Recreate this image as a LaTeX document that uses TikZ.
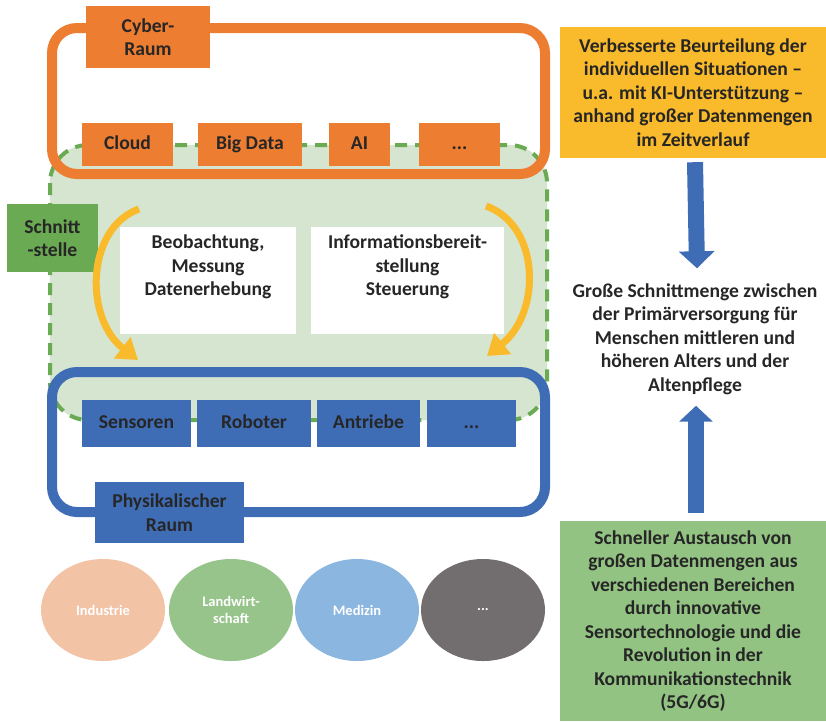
\documentclass[tikz,border=0pt]{standalone}
\usepackage{fontspec}
\setmainfont{Carlito}
\usetikzlibrary{shapes.geometric,positioning,fit,calc,arrows.meta}

\definecolor{orng}{HTML}{ED7D31}
\definecolor{blau}{HTML}{3F6DB5}
\definecolor{gruen}{HTML}{6AAA52}
\definecolor{hellgruen}{HTML}{D5E5D0}
\definecolor{gold}{HTML}{F9BA2B}
\definecolor{mattgruen}{HTML}{93C383}
\definecolor{txt}{HTML}{262626}
\definecolor{industrie}{HTML}{F2C3A5}
\definecolor{landw}{HTML}{97C48B}
\definecolor{medizin}{HTML}{8BB6DF}
\definecolor{grau}{HTML}{726D6E}

\begin{document}
\begin{tikzpicture}[x=1pt, y=-1pt,
    every node/.style={font=\fontsize{19.6}{23.5}\selectfont\bfseries,
        text=txt, align=center, inner sep=0pt},
    obox/.style={fill=orng, minimum height=43pt, text height=13pt, text depth=4pt},
    bbox/.style={fill=blau, minimum height=47pt, text height=13pt, text depth=4pt},
    wbox/.style={fill=white, minimum height=107pt},
    feld/.style={ellipse, minimum width=124pt, minimum height=102pt,
        text=white, font=\fontsize{14.5}{17}\selectfont\bfseries},
    blockpfeil/.style={blau, line width=16pt},
    bogen/.style={gold, line width=7pt,
        -{Triangle[width=26pt, length=20pt]}}]

        \useasboundingbox (0,0) rectangle (826,721);

        % Schnittstelle (dashed green region)
        \draw[hellgruen, fill=hellgruen, rounded corners=38pt]
            (50,145) rectangle (547,420);
        \draw[gruen, line width=4pt, dash pattern=on 12pt off 8pt,
            rounded corners=38pt] (50,145) rectangle (547,420);

        % Cyber-Raum and Physikalischer Raum frames
        \draw[orng, line width=10pt, rounded corners=25pt]
            (52,28) rectangle (545,174);
        \draw[blau, line width=10pt, rounded corners=25pt]
            (52,372) rectangle (545,512);

        \node[fill=orng, minimum width=124pt, minimum height=62pt]
            (cyber) at (148,37) {Cyber-\\Raum};
        \node[obox, minimum width=91pt] (cloud) at (127.5,144.5) {Cloud};
        \node[obox, minimum width=104pt] (bigdata) at (250,144.5) {Big Data};
        \node[obox, minimum width=61pt] (ai) at (359.5,144.5) {AI};
        \node[obox, minimum width=81pt] (cdots) at (459.5,144.5) {...};

        \node[fill=gruen, minimum width=91pt, minimum height=68pt]
            (schnitt) at (52.5,238) {Schnitt\\-stelle};
        \node[wbox, minimum width=176pt] (beob) at (208,280.5)
            {Beobachtung,\\Messung\\Datenerhebung\\\strut};
        \node[wbox, minimum width=193pt] (info) at (407.5,280.5)
            {Informationsbereit-\\stellung\\Steuerung\\\strut};

        \node[bbox, minimum width=109pt] (sensoren) at (136.5,423.5) {Sensoren};
        \node[bbox, minimum width=114pt] (roboter) at (254,423.5) {Roboter};
        \node[bbox, minimum width=103pt] (antriebe) at (368.5,423.5) {Antriebe};
        \node[bbox, minimum width=89pt] (pdots) at (471.5,423.5) {...};
        \node[fill=blau, minimum width=149pt, minimum height=61pt]
            (physik) at (169.5,512.5) {Physikalischer\\Raum};

        % Bereiche
        \node[feld, fill=industrie] (E1) at (103,610) {Industrie};
        \node[feld, fill=landw] (E2) at (231,610) {Landwirt-\\schaft};
        \node[feld, fill=medizin] (E3) at (357,610) {Medizin};
        \node[feld, fill=grau] (E4) at (483,610) {...};

        % right column
        \node[fill=gold, minimum width=266pt, minimum height=131pt]
            (gelb) at (693,92.5)
            {Verbesserte Beurteilung der\\individuellen Situationen --\\
             u.a. mit KI-Unterstützung --\\anhand großer Datenmengen\\
             im Zeitverlauf};
        \node (mitte) at (695,339)
            {Große Schnittmenge zwischen\\der Primärversorgung für\\
             Menschen mittleren und\\höheren Alters und der\\Altenpflege};
        \node[fill=mattgruen, minimum width=266pt, minimum height=200pt]
            (austausch) at (693,621)
            {Schneller Austausch von\\großen Datenmengen aus\\
             verschiedenen Bereichen\\durch innovative\\
             Sensortechnologie und die\\Revolution in der\\
             Kommunikationstechnik\\(5G/6G)};

        \coordinate (L1) at (139,209);
        \coordinate (L2) at (138,360);
        \coordinate (R1) at (486,206);
        \coordinate (R2) at (487,356);

        \begin{scope}
            \draw[blockpfeil, -{Triangle[width=35pt, length=17pt]}]
                ([xshift=2pt, yshift=-4pt]gelb.south) -- ([xshift=2pt, yshift=15pt]mitte.north);
            \draw[blockpfeil, -{Triangle[width=33pt, length=16pt]}]
                ([xshift=3pt, yshift=8pt]austausch.north) -- ([xshift=1pt, yshift=-11pt]mitte.south);
            \draw[bogen] (L1) .. controls (86,228) and (84,318) .. (L2);
            \draw[bogen] (R1) .. controls (540,225) and (542,312) .. (R2);
        \end{scope}

\end{tikzpicture}
\end{document}
